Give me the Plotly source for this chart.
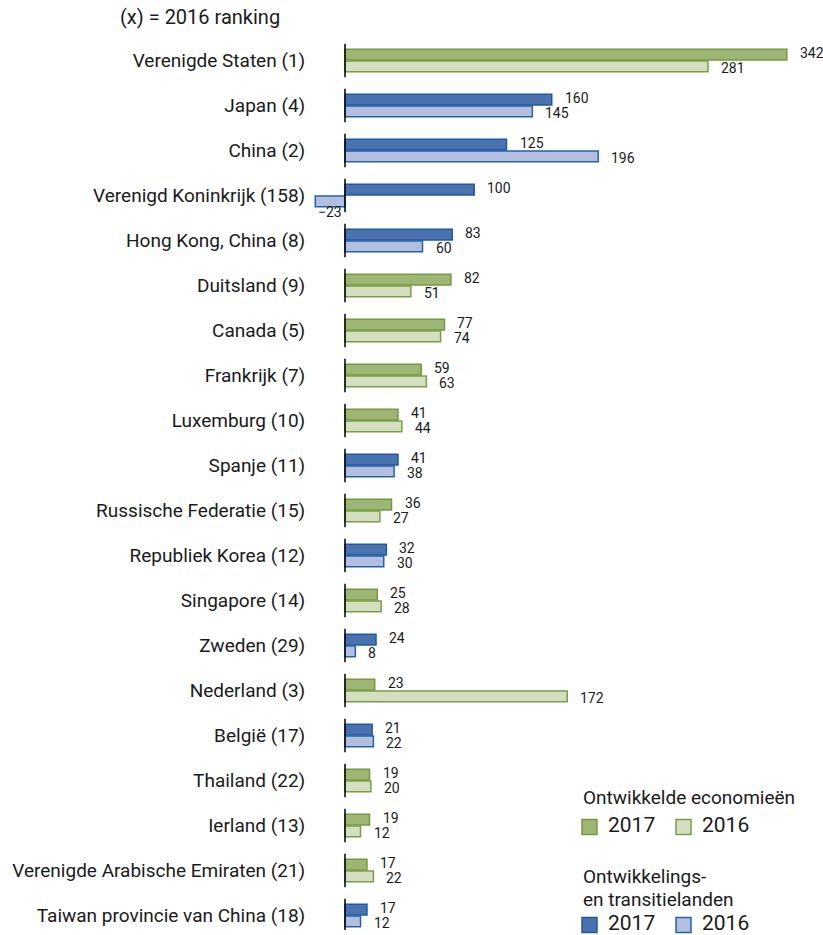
import plotly.graph_objects as go

# Top investors, 2017 vs 2016 (billions of dollars); (x) = 2016 ranking
countries = [
    "Verenigde Staten (1)", "Japan (4)", "China (2)", "Verenigd Koninkrijk (158)",
    "Hong Kong, China (8)", "Duitsland (9)", "Canada (5)", "Frankrijk (7)",
    "Luxemburg (10)", "Spanje (11)", "Russische Federatie (15)", "Republiek Korea (12)",
    "Singapore (14)", "Zweden (29)", "Nederland (3)", "België (17)",
    "Thailand (22)", "Ierland (13)", "Verenigde Arabische Emiraten (21)",
    "Taiwan provincie van China (18)",
]
values_2017 = [342, 160, 125, 100, 83, 82, 77, 59, 41, 41, 36, 32, 25, 24, 23, 21, 19, 19, 17, 17]
values_2016 = [281, 145, 196, -23, 60, 51, 74, 63, 44, 38, 27, 30, 28, 8, 172, 22, 20, 12, 22, 12]
# "dev" = developed economy, "tr" = developing / transition economy
groups = ["dev", "tr", "tr", "tr", "tr", "dev", "dev", "dev", "dev", "tr",
          "dev", "tr", "dev", "tr", "dev", "tr", "dev", "dev", "dev", "tr"]

fill_2017 = {"dev": "#9db676", "tr": "#4a72ae"}
line_2017 = {"dev": "#76983f", "tr": "#1f5a9e"}
fill_2016 = {"dev": "#d4dfc2", "tr": "#b4bfe0"}
line_2016 = {"dev": "#7a9e45", "tr": "#2262aa"}

FONT = "Roboto"
W, H = 823, 935
x0_px, x1_px = 311, 811          # plot area, pixels
y_top_px, y_bot_px = 38, 930

fig = go.Figure()
fig.add_trace(go.Bar(
    y=countries, x=values_2017, orientation="h", name="2017",
    marker=dict(color=[fill_2017[g] for g in groups],
                line=dict(color=[line_2017[g] for g in groups], width=1.5)),
    hoverinfo="x+y", showlegend=False,
))
fig.add_trace(go.Bar(
    y=countries, x=values_2016, orientation="h", name="2016",
    marker=dict(color=[fill_2016[g] for g in groups],
                line=dict(color=[line_2016[g] for g in groups], width=1.5)),
    hoverinfo="x+y", showlegend=False,
))

annotations = []
for c, v17, v16 in zip(countries, values_2017, values_2016):
    annotations.append(dict(x=v17, y=c, xref="x", yref="y", text=str(v17),
                            showarrow=False, xanchor="left", xshift=11, yshift=7.5,
                            font=dict(family=FONT, size=14, color="#1a1a1a")))
    if v16 >= 0:
        annotations.append(dict(x=v16, y=c, xref="x", yref="y", text=str(v16),
                                showarrow=False, xanchor="left", xshift=11, yshift=-7.5,
                                font=dict(family=FONT, size=14, color="#1a1a1a")))
    else:
        annotations.append(dict(x=v16 / 2, y=c, xref="x", yref="y",
                                text="\u2212" + str(abs(v16)),
                                showarrow=False, xanchor="center", yshift=-16,
                                font=dict(family=FONT, size=14, color="#1a1a1a")))

# Zero line drawn as one short segment per country
shapes = []
for i in range(len(countries)):
    shapes.append(dict(type="line", xref="x", yref="y", x0=0, x1=0,
                       y0=i - 0.37, y1=i + 0.37,
                       line=dict(color="#000000", width=1.5)))


def px(x):
    return x / W


def py(y):
    return 1 - y / H


annotations.append(dict(x=px(118), y=py(17), xref="paper", yref="paper",
                        text="(x) = 2016 ranking", showarrow=False,
                        xanchor="left", yanchor="middle",
                        font=dict(family=FONT, size=20, color="#1a1a1a")))

# Legend, drawn by hand in two groups
legend_blocks = [
    (["Ontwikkelde economieën"], 797, 825, "dev"),
    (["Ontwikkelings-", "en transitielanden"], 876, 923, "tr"),
]
for lines, title_y, row_y, g in legend_blocks:
    for k, t in enumerate(lines):
        annotations.append(dict(x=px(581), y=py(title_y + 23 * k), xref="paper", yref="paper",
                                text=t, showarrow=False, xanchor="left", yanchor="middle",
                                font=dict(family=FONT, size=19, color="#1a1a1a")))
    for sx, fill, line, label in [(582, fill_2017[g], line_2017[g], "2017"),
                                  (676, fill_2016[g], line_2016[g], "2016")]:
        shapes.append(dict(type="rect", xref="paper", yref="paper",
                           x0=px(sx), x1=px(sx + 15), y0=py(row_y + 9.5), y1=py(row_y - 5.5),
                           fillcolor=fill, line=dict(color=line, width=1.5)))
        annotations.append(dict(x=px(sx + 24), y=py(row_y), xref="paper", yref="paper",
                                text=label, showarrow=False, xanchor="left", yanchor="middle",
                                font=dict(family=FONT, size=21, color="#1a1a1a")))

scale = 1.292  # pixels per unit
x_min = -(345 - x0_px) / scale
x_max = x_min + (x1_px - x0_px) / scale
n_units = (y_bot_px - y_top_px) / 45.0

fig.update_layout(
    width=W, height=H,
    margin=dict(l=0, r=0, t=0, b=0),
    paper_bgcolor="white", plot_bgcolor="white",
    barmode="group", bargap=0.47, bargroupgap=0.1,
    font=dict(family=FONT, size=19, color="#1a1a1a"),
    xaxis=dict(domain=[px(x0_px), px(x1_px)], range=[x_min, x_max],
               showgrid=False, zeroline=False, showticklabels=False,
               showline=False, ticks=""),
    yaxis=dict(domain=[py(y_bot_px), py(y_top_px)],
               range=[-0.5 + n_units, -0.5], type="category",
               showgrid=False, zeroline=False, showline=False,
               ticks="outside", ticklen=1, tickcolor="rgba(0,0,0,0)",
               tickfont=dict(family=FONT, size=19, color="#1a1a1a")),
    annotations=annotations,
    shapes=shapes,
)

fig.write_html("out.html")
